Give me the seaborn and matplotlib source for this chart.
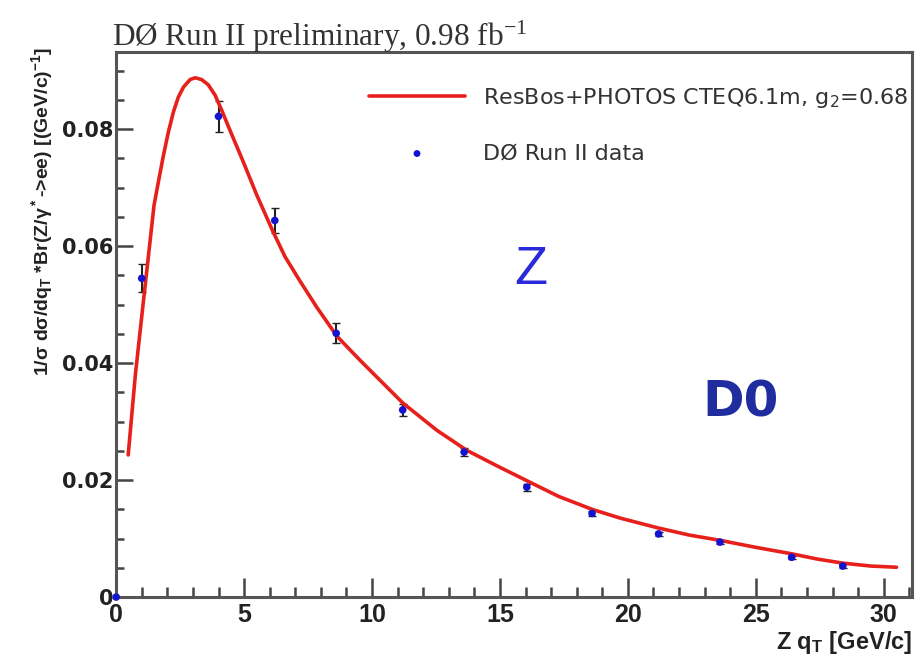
import numpy as np
import pandas as pd
import seaborn as sns
import matplotlib.pyplot as plt
from matplotlib.ticker import MultipleLocator

# ResBos+PHOTOS prediction
curve_qt = [0.47, 0.75, 1.05, 1.48, 1.65, 1.85, 2.04, 2.24, 2.43, 2.63, 2.89, 3.09, 3.34,
            3.60, 3.87, 4.13, 4.45, 4.97, 5.5, 6.13, 6.6, 7.19, 7.85, 8.63, 9.53, 11.2,
            12.54, 13.7, 14.9, 16.05, 17.3, 18.6, 19.7, 21.2, 22.4, 23.6, 25.0, 26.4,
            27.4, 28.4, 29.5, 30.5]
curve_val = [0.0243, 0.038, 0.050, 0.067, 0.071, 0.0756, 0.0795, 0.083, 0.0855, 0.0872,
             0.0885, 0.0888, 0.0885, 0.0876, 0.0858, 0.0832, 0.0798, 0.0744, 0.0687,
             0.0625, 0.0582, 0.0540, 0.0495, 0.0446, 0.0405, 0.0332, 0.0285, 0.0251,
             0.0224, 0.0199, 0.0172, 0.0150, 0.0135, 0.0118, 0.0106, 0.0097, 0.0085,
             0.0074, 0.0065, 0.0058, 0.0053, 0.0051]

# D0 Run II data points
data_qt = [0.0, 1.0, 4.0, 6.2, 8.6, 11.2, 13.6, 16.05, 18.6, 21.2, 23.6, 26.4, 28.4]
data_val = [0.0, 0.0545, 0.0822, 0.0644, 0.0451, 0.032, 0.0248, 0.0188, 0.0143, 0.0108,
            0.0094, 0.0068, 0.0053]
data_err = [0.0, 0.0024, 0.0026, 0.0021, 0.0017, 0.001, 0.0007, 0.0006, 0.0005,
            0.0004, 0.0003, 0.0003, 0.0003]

curve = pd.DataFrame({'qt': curve_qt, 'val': curve_val})
data = pd.DataFrame({'qt': data_qt, 'val': data_val, 'err': data_err})

sns.set_style('white')
plt.rcParams['font.family'] = ['Liberation Sans', 'DejaVu Sans']
plt.rcParams['mathtext.default'] = 'regular'

fig = plt.figure(figsize=(9.22, 6.59), dpi=100)
ax = fig.add_axes([0.126, 0.094, 0.863, 0.827])

ax.errorbar(data['qt'], data['val'], yerr=data['err'], fmt='none', ecolor='#222222',
            elinewidth=1.5, capsize=3, zorder=2)
sns.lineplot(data=curve, x='qt', y='val', color='#e8201c', lw=2.6, ax=ax,
             label='ResBos+PHOTOS CTEQ6.1m, g$_2$=0.68', zorder=3)
sns.scatterplot(data=data, x='qt', y='val', color='#1414d0', s=30, edgecolor='none',
                ax=ax, label='DØ Run II data', zorder=4, clip_on=False)

ax.set_xlim(0, 31.1)
ax.set_ylim(0, 0.0932)
ax.xaxis.set_major_locator(MultipleLocator(5))
ax.xaxis.set_minor_locator(MultipleLocator(1))
ax.yaxis.set_minor_locator(MultipleLocator(0.005))
ax.set_yticks([0, 0.02, 0.04, 0.06, 0.08])
ax.set_yticklabels(['0', '0.02', '0.04', '0.06', '0.08'])
ax.tick_params(axis='x', which='major', direction='in', length=14, width=1.8,
               color='#444444', labelsize=18, pad=4, bottom=True)
ax.tick_params(axis='x', which='minor', direction='in', length=7, width=1.8,
               color='#444444', bottom=True)
ax.tick_params(axis='y', which='major', direction='in', length=12, width=1.8,
               color='#444444', pad=2, left=True)
ax.tick_params(axis='y', which='minor', direction='in', length=6, width=1.8,
               color='#444444', left=True)
for lab in ax.get_xticklabels():
    lab.set_fontweight('bold')
    lab.set_color('#222222')
for lab in ax.get_yticklabels():
    lab.set_family('DejaVu Sans')
    lab.set_fontweight('bold')
    lab.set_fontsize(15)
    lab.set_color('#222222')
for sp in ax.spines.values():
    sp.set_color('#555555')
    sp.set_linewidth(2.2)

ax.set_xlabel('Z q$_T$ [GeV/c]', loc='right', fontsize=17, fontweight='bold',
              color='#222222', labelpad=2)
ax.set_ylabel('1/σ dσ/dq$_T$ *Br(Z/γ$^*$->ee) [(GeV/c)$^{-1}$]',
              loc='top', fontsize=14, fontweight='bold', color='#222222')
ax.yaxis.set_label_coords(-0.077, 1.01)

fig.text(112 / 922, 0.930, 'DØ Run II preliminary, 0.98 fb$^{-1}$', fontsize=22.5,
         family='Liberation Serif', color='#333333', va='baseline')

ax.text(16.2, 0.0559, 'Z', color='#2a2adb', fontsize=39, ha='center', va='center')
ax.text(24.4, 0.0333, 'D0', color='#1f2d9e', fontsize=36, fontweight='bold',
        family='DejaVu Sans', ha='center', va='center')

leg = ax.legend(loc='upper right', bbox_to_anchor=(1.006, 0.954), borderaxespad=0,
                frameon=False, prop={'family': 'DejaVu Sans', 'size': 16},
                handlelength=4.3, labelspacing=1.5, handletextpad=0.8,
                markerscale=0.9, borderpad=0.4)
for t in leg.get_texts():
    t.set_color('#333333')

plt.savefig('out.png', dpi=100)
